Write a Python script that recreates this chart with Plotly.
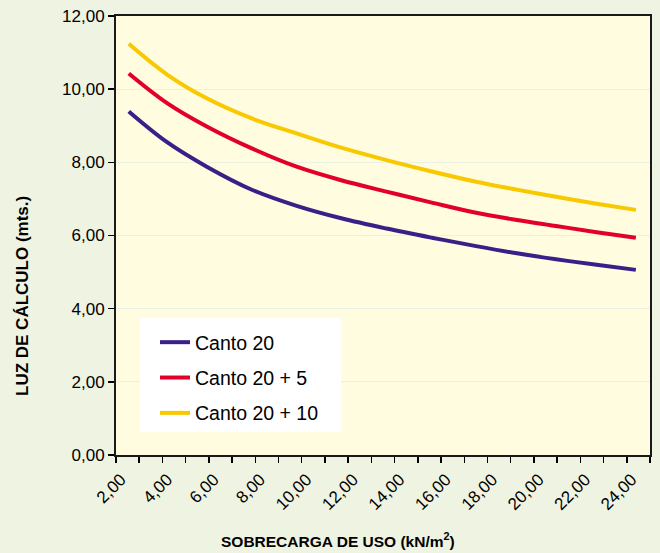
import plotly.graph_objects as go

# Data
sobrecarga = [2.55, 4.2, 5.91, 7.85, 9.78, 11.7, 13.65, 15.6, 17.51, 19.2, 20.95, 22.7, 24.39]
canto_20 = [9.39, 8.55, 7.88, 7.25, 6.81, 6.47, 6.19, 5.94, 5.71, 5.52, 5.35, 5.20, 5.06]
canto_20_5 = [10.43, 9.62, 8.98, 8.38, 7.88, 7.51, 7.20, 6.90, 6.62, 6.43, 6.26, 6.09, 5.94]
canto_20_10 = [11.24, 10.40, 9.75, 9.20, 8.79, 8.40, 8.06, 7.75, 7.47, 7.26, 7.06, 6.87, 6.70]

series_names = ["Canto 20", "Canto 20 + 5", "Canto 20 + 10"]
series_values = [canto_20, canto_20_5, canto_20_10]
series_colors = ["#3A1F88", "#E2002A", "#F8C800"]

x_tick_vals = [2, 4, 6, 8, 10, 12, 14, 16, 18, 20, 22, 24]
x_tick_text = ["2,00", "4,00", "6,00", "8,00", "10,00", "12,00", "14,00",
               "16,00", "18,00", "20,00", "22,00", "24,00"]
y_tick_vals = [0, 2, 4, 6, 8, 10, 12]
y_tick_text = ["0,00", "2,00", "4,00", "6,00", "8,00", "10,00", "12,00"]

fig = go.Figure()
for i, (name, vals, col) in enumerate(zip(series_names, series_values, series_colors)):
    fig.add_trace(go.Scatter(
        x=sobrecarga, y=vals, name=name, mode="lines",
        line=dict(color=col, width=4, shape="spline", smoothing=1.0),
        legendgroup=f"g{i}",
    ))

FONT = "Liberation Sans, Arial, sans-serif"
L, R, T, B = 116, 10, 16, 98
W, H = 660, 553
PW, PH = W - L - R, H - T - B


def px_x(p):
    return (p - L) / PW


def px_y(p):
    return (H - B - p) / PH


fig.update_layout(
    width=W, height=H,
    margin=dict(l=L, r=R, t=T, b=B),
    paper_bgcolor="#EFF3E2",
    plot_bgcolor="#FFFCDF",
    font=dict(family=FONT, size=17, color="#000000"),
    showlegend=True,
    legend=dict(
        x=px_x(155), y=px_y(323), xanchor="left", yanchor="top",
        bgcolor="rgba(0,0,0,0)", borderwidth=0,
        font=dict(family=FONT, size=19.5, color="#000000"),
        tracegroupgap=7,
        itemwidth=30,
    ),
    shapes=[dict(
        type="rect", xref="paper", yref="paper",
        x0=px_x(140), x1=px_x(341), y0=px_y(432), y1=px_y(318),
        fillcolor="#FFFFFF", line=dict(width=0), layer="above",
    )],
    xaxis=dict(
        range=[2, 25], tickmode="array", tickvals=x_tick_vals, ticktext=x_tick_text,
        tickangle=-45, ticks="outside", ticklen=6, tickcolor="#000000", tickwidth=1.5,
        ticklabelshift=5,
        minor=dict(dtick=1, tick0=2, ticks="outside", ticklen=6, tickcolor="#000000", tickwidth=1.5, showgrid=False),
        showline=True, linecolor="#1a1a1a", linewidth=2, mirror=True,
        showgrid=False, zeroline=False, automargin=False,
        tickfont=dict(family=FONT, size=17),
    ),
    yaxis=dict(
        range=[0, 12], tickmode="array", tickvals=y_tick_vals, ticktext=y_tick_text,
        ticks="outside", ticklen=6, tickcolor="#000000", tickwidth=1.5,
        showline=True, linecolor="#1a1a1a", linewidth=2, mirror=True,
        showgrid=True, gridcolor="#EAF2E6", gridwidth=1, zeroline=False, automargin=False,
        tickfont=dict(family=FONT, size=17),
    ),
    annotations=[
        dict(
            text="<b>SOBRECARGA DE USO (kN/m<sup>2</sup>)</b>",
            xref="paper", yref="paper", x=px_x(338), y=px_y(540), yanchor="middle", xanchor="center",
            showarrow=False, font=dict(family=FONT, size=15.5),
        ),
        dict(
            text="<b>LUZ DE CÁLCULO (mts.)</b>",
            xref="paper", yref="paper", x=px_x(22), y=px_y(296), yanchor="middle", xanchor="center",
            textangle=-90, showarrow=False, font=dict(family=FONT, size=17),
        ),
    ],
)

fig.write_html(
    "out.html",
    config={"displayModeBar": False, "staticPlot": True},
    post_script="document.body.style.margin='0';document.body.style.padding='0';"
                "document.body.style.background='#EFF3E2';document.body.style.overflow='hidden';",
)
